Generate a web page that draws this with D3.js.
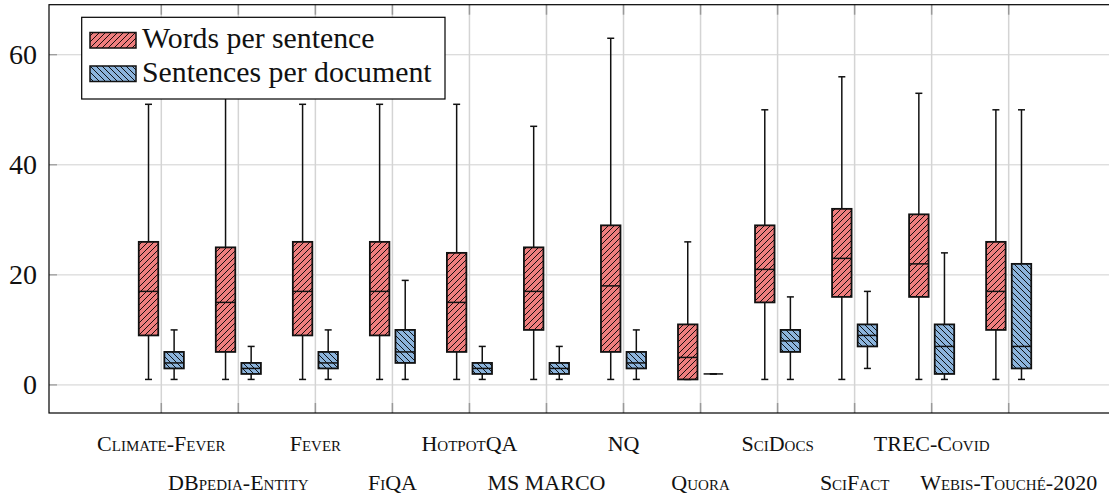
<!DOCTYPE html>
<html>
<head>
<meta charset="utf-8">
<script src="https://cdn.jsdelivr.net/npm/d3@7"></script>
<style>
  body { margin: 0; background: #fff; }
  svg { display: block; font-family: "Liberation Serif", "DejaVu Serif", serif; }
  .xlab { font-variant-caps: small-caps; }
</style>
</head>
<body>
<svg id="chart" width="1109" height="495"></svg>
<script>
const categories = ["Climate-Fever", "DBpedia-Entity", "Fever", "FiQA", "HotpotQA", "MS MARCO",
  "NQ", "Quora", "SciDocs", "SciFact", "TREC-Covid", "Webis-Touché-2020"];

// words per sentence
const wordsMin = [1, 1, 1, 1, 1, 1, 1, 1, 1, 1, 1, 1];
const wordsQ1 = [9, 6, 9, 9, 6, 10, 6, 1, 15, 16, 16, 10];
const wordsMedian = [17, 15, 17, 17, 15, 17, 18, 5, 21, 23, 22, 17];
const wordsQ3 = [26, 25, 26, 26, 24, 25, 29, 11, 29, 32, 31, 26];
const wordsMax = [51, 60, 51, 51, 51, 47, 63, 26, 50, 56, 53, 50];

// sentences per document
const sentMin = [1, 1, 1, 1, 1, 1, 1, 2, 1, 3, 1, 1];
const sentQ1 = [3, 2, 3, 4, 2, 2, 3, 2, 6, 7, 2, 3];
const sentMedian = [4, 3, 4, 6, 3, 3, 4, 2, 8, 9, 7, 7];
const sentQ3 = [6, 4, 6, 10, 4, 4, 6, 2, 10, 11, 11, 22];
const sentMax = [10, 7, 10, 19, 7, 7, 10, 2, 16, 17, 24, 50];

const yTicks = [0, 20, 40, 60];
const seriesNames = ["Words per sentence", "Sentences per document"];

const svg = d3.select("#chart");
const pLeft = 49, pRight = 1121, pTop = 4.7, pBottom = 413;

const x = d3.scaleLinear().domain([-0.458, categories.length + 1.458]).range([pLeft, pRight]);
const y = d3.scaleLinear().domain([-5.1, 69.1]).range([pBottom, pTop]);

const defs = svg.append("defs");
function hatch(id, fill, dir) {
  const p = defs.append("pattern").attr("id", id).attr("patternUnits", "userSpaceOnUse")
    .attr("width", 6).attr("height", 6);
  p.append("rect").attr("width", 6).attr("height", 6).attr("fill", fill);
  const d = dir > 0 ? "M-1,1 L1,-1 M0,6 L6,0 M5,7 L7,5" : "M-1,5 L1,7 M0,0 L6,6 M5,-1 L7,1";
  p.append("path").attr("d", d).attr("stroke", "#000").attr("stroke-width", 0.9);
}
hatch("hRed", "#ef7e7e", 1);
hatch("hBlue", "#8cb4dc", -1);

// grid
svg.append("g").selectAll("line").data(yTicks).enter().append("line")
  .attr("x1", pLeft).attr("x2", pRight).attr("y1", d => y(d)).attr("y2", d => y(d))
  .attr("stroke", "#d0d0d0").attr("stroke-width", 1);
svg.append("g").selectAll("line").data(categories).enter().append("line")
  .attr("x1", (d, i) => x(i + 1)).attr("x2", (d, i) => x(i + 1))
  .attr("y1", pTop).attr("y2", pBottom)
  .attr("stroke", "#d4d4d4").attr("stroke-width", 1.5);

// tick marks (inside)
svg.append("g").selectAll("line").data(yTicks).enter().append("line")
  .attr("x1", pLeft).attr("x2", pLeft + 8).attr("y1", d => y(d)).attr("y2", d => y(d))
  .attr("stroke", "#888").attr("stroke-width", 1);
const xt = svg.append("g");
categories.forEach((c, i) => {
  xt.append("line").attr("x1", x(i + 1)).attr("x2", x(i + 1)).attr("y1", pBottom - 10).attr("y2", pBottom)
    .attr("stroke", "#999").attr("stroke-width", 1.5);
  xt.append("line").attr("x1", x(i + 1)).attr("x2", x(i + 1)).attr("y1", pTop).attr("y2", pTop + 10)
    .attr("stroke", "#999").attr("stroke-width", 1.5);
});

// boxes
const boxW = 19.5, off = 12.8, capW = 7;
function drawBoxes(mins, q1, med, q3, maxs, dx, pat) {
  const g = svg.append("g");
  categories.forEach((c, i) => {
    const cx = x(i + 1) + dx;
    const b = g.append("g");
    b.append("line").attr("x1", cx).attr("x2", cx).attr("y1", y(maxs[i])).attr("y2", y(q3[i]))
      .attr("stroke", "#111").attr("stroke-width", 1.5);
    b.append("line").attr("x1", cx).attr("x2", cx).attr("y1", y(q1[i])).attr("y2", y(mins[i]))
      .attr("stroke", "#111").attr("stroke-width", 1.5);
    b.append("line").attr("x1", cx - capW / 2).attr("x2", cx + capW / 2).attr("y1", y(maxs[i])).attr("y2", y(maxs[i]))
      .attr("stroke", "#111").attr("stroke-width", 1.5);
    b.append("line").attr("x1", cx - capW / 2).attr("x2", cx + capW / 2).attr("y1", y(mins[i])).attr("y2", y(mins[i]))
      .attr("stroke", "#111").attr("stroke-width", 1.5);
    b.append("rect").attr("x", cx - boxW / 2).attr("width", boxW)
      .attr("y", y(q3[i])).attr("height", y(q1[i]) - y(q3[i]))
      .attr("fill", `url(#${pat})`).attr("stroke", "#111").attr("stroke-width", 1.8);
    b.append("line").attr("x1", cx - boxW / 2).attr("x2", cx + boxW / 2).attr("y1", y(med[i])).attr("y2", y(med[i]))
      .attr("stroke", "#111").attr("stroke-width", 1.5);
  });
}
drawBoxes(wordsMin, wordsQ1, wordsMedian, wordsQ3, wordsMax, -off, "hRed");
drawBoxes(sentMin, sentQ1, sentMedian, sentQ3, sentMax, off, "hBlue");

// frame
svg.append("rect").attr("x", pLeft).attr("y", pTop).attr("width", pRight - pLeft).attr("height", pBottom - pTop)
  .attr("fill", "none").attr("stroke", "#000").attr("stroke-width", 1.2);

// y axis labels
const yAxis = svg.append("g").attr("transform", `translate(${pLeft},0)`)
  .call(d3.axisLeft(y).tickValues(yTicks).tickSize(0).tickPadding(12));
yAxis.select(".domain").remove();
yAxis.selectAll("text").attr("font-family", "Liberation Serif").attr("font-size", 28).attr("fill", "#111");

// x labels, staggered
svg.append("g").selectAll("text").data(categories).enter().append("text")
  .attr("class", "xlab")
  .attr("x", (d, i) => x(i + 1)).attr("y", (d, i) => i % 2 === 0 ? 451 : 490)
  .attr("text-anchor", "middle").attr("font-size", 22).attr("fill", "#111")
  .text(d => d);

// legend
const lg = svg.append("g");
lg.append("rect").attr("x", 81.7).attr("y", 17.3).attr("width", 363.3).attr("height", 81.7)
  .attr("fill", "#fff").attr("stroke", "#000").attr("stroke-width", 1.2);
seriesNames.forEach((s, i) => {
  const yy = 32.5 + i * 33.5;
  lg.append("rect").attr("x", 90).attr("y", yy).attr("width", 46).attr("height", 15.5)
    .attr("fill", i === 0 ? "url(#hRed)" : "url(#hBlue)").attr("stroke", "#111").attr("stroke-width", 1.5);
  lg.append("text").attr("x", 142).attr("y", yy + 15.5).attr("font-size", 29.8).attr("fill", "#111").text(s);
});
</script>
</body>
</html>
